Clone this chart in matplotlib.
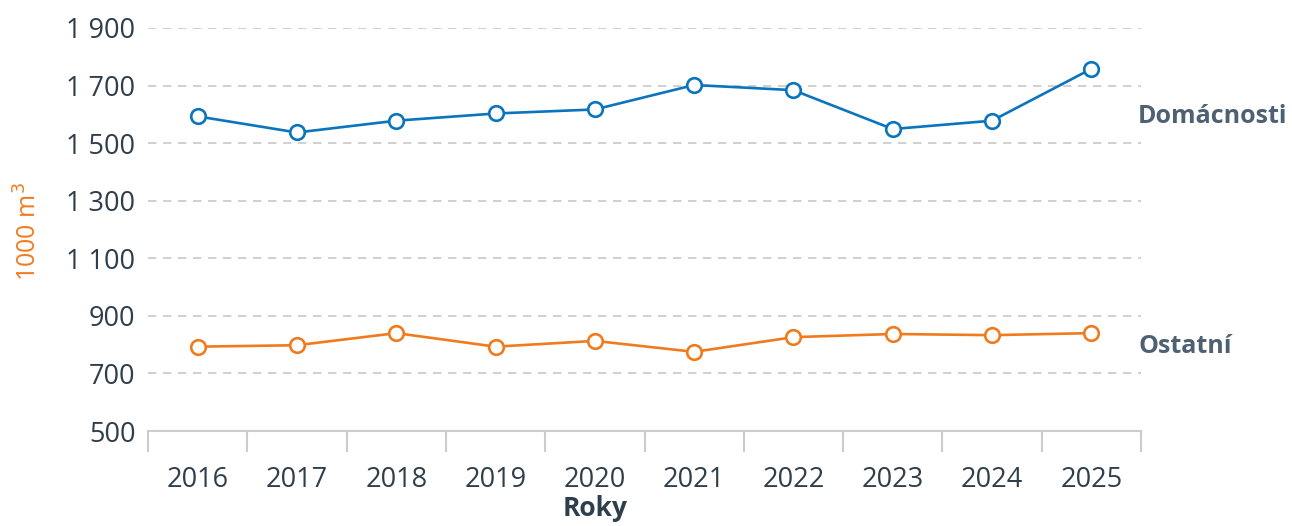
import matplotlib
matplotlib.use("Agg")
import matplotlib.pyplot as plt
from matplotlib.ticker import FuncFormatter, FixedLocator

plt.rcParams['font.family'] = ['Open Sans', 'DejaVu Sans']

roky = ['2016', '2017', '2018', '2019', '2020', '2021', '2022', '2023', '2024', '2025']
domacnosti = [1593, 1537, 1578, 1603, 1617, 1702, 1684, 1549, 1578, 1758]
ostatni = [793, 798, 840, 793, 813, 775, 826, 837, 833, 840]

modra = '#0a74bd'
oranzova = '#f07b1e'
text_barva = '#2f3e4b'
popisek_barva = '#4e6173'

fig = plt.figure(figsize=(12.92, 5.26), dpi=100)
ax = fig.add_axes([148/1292, 1 - 431/526, (1141-148)/1292, (431-28)/526])

x = list(range(len(roky)))
for hodnoty, barva in [(domacnosti, modra), (ostatni, oranzova)]:
    ax.plot(x, hodnoty, color=barva, lw=1.9, marker='o', ms=10.5,
            mfc='white', mec=barva, mew=1.9, zorder=3, clip_on=False)

ax.set_xlim(-0.5, len(roky) - 0.5)
ax.set_ylim(500, 1900)
ax.set_yticks(range(500, 1901, 200))
ax.yaxis.set_major_formatter(FuncFormatter(lambda v, p: f'{int(v):,}'.replace(',', ' ')))
ax.set_xticks(x)
ax.set_xticklabels(roky)
ax.xaxis.set_minor_locator(FixedLocator([i - 0.5 for i in range(len(roky) + 1)]))

ax.grid(axis='y', color='#c8c8c8', lw=1.2, ls=(0, (5, 4)))
ax.set_axisbelow(True)
for s in ['top', 'right', 'left']:
    ax.spines[s].set_visible(False)
ax.spines['bottom'].set_color('#cccccc')
ax.spines['bottom'].set_linewidth(1.5)

ax.tick_params(axis='y', length=0, pad=9, labelsize=19.5, labelcolor=text_barva)
ax.tick_params(axis='x', which='major', length=0, pad=25, labelsize=19.5, labelcolor=text_barva)
ax.tick_params(axis='x', which='minor', length=15, width=1.5, color='#cccccc')

# popisky serii u prvni hodnoty
ax.text(len(roky) - 0.53, domacnosti[0], 'Domácnosti', fontsize=18, fontweight='bold',
        color=popisek_barva, va='center', ha='left')
ax.text(len(roky) - 0.53, ostatni[0], 'Ostatní', fontsize=18, fontweight='bold',
        color=popisek_barva, va='center', ha='left')

fig.text(595/1292, 4/526, 'Roky', fontsize=19, fontweight='bold',
         color=text_barva, ha='center', va='bottom')
fig.text(29/1292, 1 - 232/526, '1000 m$^3$', fontsize=18, color=oranzova,
         rotation=90, ha='center', va='center')

fig.savefig('out.png', dpi=100)
